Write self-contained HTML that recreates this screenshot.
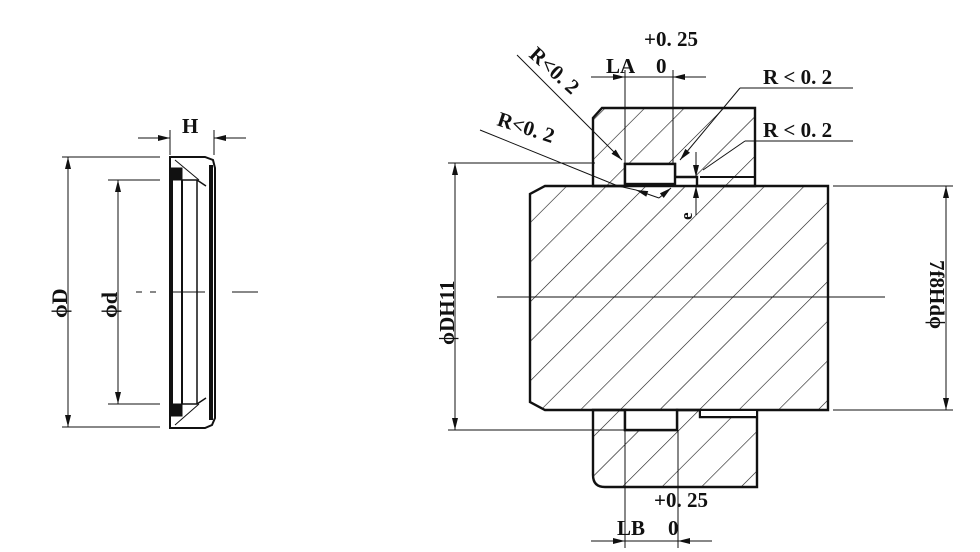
<!DOCTYPE html>
<html><head><meta charset="utf-8"><style>
html,body{margin:0;padding:0;background:#fff;}
svg{display:block;}
text{font-family:"Liberation Serif",serif;font-weight:bold;fill:#111;}
</style></head><body>
<svg width="980" height="552" viewBox="0 0 980 552" xmlns="http://www.w3.org/2000/svg">
<defs>
<pattern id="h" patternUnits="userSpaceOnUse" width="28" height="28" patternTransform="rotate(45)">
<line x1="0" y1="0" x2="0" y2="28" stroke="#111" stroke-width="1.2"/>
</pattern>
<marker id="a" markerWidth="12" markerHeight="6" refX="12" refY="3" orient="auto" markerUnits="userSpaceOnUse">
<path d="M0,0 L12,3 L0,6 Z" fill="#111"/>
</marker>
</defs>
<g stroke="#111" fill="none">
<!-- LEFT SEAL -->
<line x1="62" y1="157" x2="160" y2="157" stroke-width="1"/>
<line x1="62" y1="427" x2="160" y2="427" stroke-width="1"/>
<line x1="108" y1="180" x2="160" y2="180" stroke-width="1"/>
<line x1="108" y1="404" x2="160" y2="404" stroke-width="1"/>
<line x1="68" y1="170" x2="68" y2="157" marker-end="url(#a)" stroke-width="1"/>
<line x1="68" y1="170" x2="68" y2="414" stroke-width="1"/>
<line x1="68" y1="414" x2="68" y2="427" marker-end="url(#a)" stroke-width="1"/>
<line x1="118" y1="192" x2="118" y2="180" marker-end="url(#a)" stroke-width="1"/>
<line x1="118" y1="192" x2="118" y2="392" stroke-width="1"/>
<line x1="118" y1="392" x2="118" y2="404" marker-end="url(#a)" stroke-width="1"/>
<line x1="136" y1="292" x2="164" y2="292" stroke-width="1" stroke-dasharray="6,8"/>
<line x1="170" y1="292" x2="205" y2="292" stroke-width="1"/>
<line x1="232" y1="292" x2="258" y2="292" stroke-width="1"/>
<line x1="138" y1="138" x2="170" y2="138" stroke-width="1" marker-end="url(#a)"/>
<line x1="246" y1="138" x2="214" y2="138" stroke-width="1" marker-end="url(#a)"/>
<line x1="170" y1="130" x2="170" y2="155" stroke-width="1"/>
<line x1="214" y1="130" x2="214" y2="155" stroke-width="1"/>
<path d="M170,157 L205,157 L213,160 L215,168 L215,418 L212,425 L205,428 L170,428 Z" stroke-width="2"/>
<line x1="172" y1="170" x2="172" y2="414" stroke-width="2"/>
<line x1="182" y1="180" x2="182" y2="404" stroke-width="2"/>
<line x1="197" y1="180" x2="197" y2="404" stroke-width="1.5"/>
<line x1="211" y1="165" x2="211" y2="420" stroke-width="4"/>
<path d="M170,168 L182,168 L182,180 L170,180 Z" fill="#111"/>
<path d="M170,404 L182,404 L182,416 L170,416 Z" fill="#111"/>
<path d="M175,160 L199,180" stroke-width="1"/>
<path d="M175,425 L199,404" stroke-width="1"/>
<path d="M182,180 L197,180 L206,186 M182,404 L197,404 L206,398" stroke-width="1.5"/>

<!-- RIGHT ASSEMBLY -->
<path d="M602,108 L755,108 L755,186 L697,186 L697,177 L675,177 L675,164 L625,164 L625,186 L593,186 L593,118 Z" fill="url(#h)" stroke-width="2.4"/>
<path d="M545,186 L828,186 L828,410 L545,410 L530,402 L530,194 Z" fill="url(#h)" stroke-width="2.4"/>
<path d="M593,410 L625,410 L625,430 L677,430 L677,410 L700,410 L700,417 L757,417 L757,410 L757,487 L605,487 Q593,487 593,475 Z" fill="url(#h)" stroke-width="2.4"/>
<rect x="625" y="164" width="50" height="20" fill="#fff" stroke-width="2.4"/>
<rect x="625" y="410" width="52" height="20" fill="#fff" stroke-width="2.4"/>
<rect x="700" y="410" width="57" height="7" fill="#fff" stroke-width="2"/>
<line x1="700" y1="177" x2="755" y2="177" stroke-width="2"/>

<line x1="497" y1="297" x2="885" y2="297" stroke-width="1"/>
<line x1="448" y1="163" x2="595" y2="163" stroke-width="1"/>
<line x1="448" y1="430" x2="625" y2="430" stroke-width="1"/>
<line x1="833" y1="186" x2="953" y2="186" stroke-width="1"/>
<line x1="833" y1="410" x2="953" y2="410" stroke-width="1"/>
<line x1="455" y1="176" x2="455" y2="163" marker-end="url(#a)" stroke-width="1"/>
<line x1="455" y1="176" x2="455" y2="418" stroke-width="1"/>
<line x1="455" y1="418" x2="455" y2="430" marker-end="url(#a)" stroke-width="1"/>
<line x1="946" y1="198" x2="946" y2="186" marker-end="url(#a)" stroke-width="1"/>
<line x1="946" y1="198" x2="946" y2="398" stroke-width="1"/>
<line x1="946" y1="398" x2="946" y2="410" marker-end="url(#a)" stroke-width="1"/>

<line x1="625" y1="70" x2="625" y2="164" stroke-width="1"/>
<line x1="673" y1="70" x2="673" y2="164" stroke-width="1"/>
<line x1="591" y1="77" x2="625" y2="77" marker-end="url(#a)" stroke-width="1"/>
<line x1="706" y1="77" x2="673" y2="77" marker-end="url(#a)" stroke-width="1"/>
<line x1="625" y1="77" x2="673" y2="77" stroke-width="1"/>
<line x1="625" y1="430" x2="625" y2="548" stroke-width="1"/>
<line x1="678" y1="430" x2="678" y2="548" stroke-width="1"/>
<line x1="591" y1="541" x2="625" y2="541" marker-end="url(#a)" stroke-width="1"/>
<line x1="712" y1="541" x2="678" y2="541" marker-end="url(#a)" stroke-width="1"/>
<line x1="625" y1="541" x2="678" y2="541" stroke-width="1"/>

<line x1="517" y1="55" x2="622" y2="160" marker-end="url(#a)" stroke-width="1"/>
<line x1="480" y1="130" x2="618" y2="186" stroke-width="1"/>
<line x1="618" y1="186" x2="636" y2="190" stroke-width="1"/>
<line x1="659" y1="198" x2="671" y2="188" marker-end="url(#a)" stroke-width="1"/>
<line x1="659" y1="198" x2="636" y2="190" marker-end="url(#a)" stroke-width="1"/>
<line x1="740" y1="88" x2="853" y2="88" stroke-width="1"/>
<line x1="740" y1="88" x2="680" y2="160" marker-end="url(#a)" stroke-width="1"/>
<line x1="745" y1="141" x2="853" y2="141" stroke-width="1"/>
<line x1="745" y1="141" x2="703" y2="170" stroke-width="1"/>
<line x1="696" y1="152" x2="696" y2="177" marker-end="url(#a)" stroke-width="1"/>
<line x1="696" y1="215" x2="696" y2="186" marker-end="url(#a)" stroke-width="1"/>
</g>

<g font-size="21">
<text x="182" y="133">H</text>
<text transform="translate(67,318) rotate(-90)" font-size="22">ϕD</text>
<text transform="translate(117,318) rotate(-90)" font-size="22">ϕd</text>
<text transform="translate(454,345) rotate(-90)">ϕDH11</text>
<text transform="translate(930,260) rotate(90)">7f8Hdϕ</text>
<text x="644" y="46">+0. 25</text>
<text x="606" y="73">LA</text>
<text x="656" y="73">0</text>
<text x="763" y="84">R &lt; 0. 2</text>
<text x="763" y="137">R &lt; 0. 2</text>
<text transform="translate(528,56) rotate(42)">R&lt;0. 2</text>
<text transform="translate(496,125) rotate(18)">R&lt;0. 2</text>
<text transform="translate(692,220) rotate(-90)" font-size="17">e</text>
<text x="654" y="507">+0. 25</text>
<text x="617" y="535">LB</text>
<text x="668" y="535">0</text>
</g>
</svg>
</body></html>
